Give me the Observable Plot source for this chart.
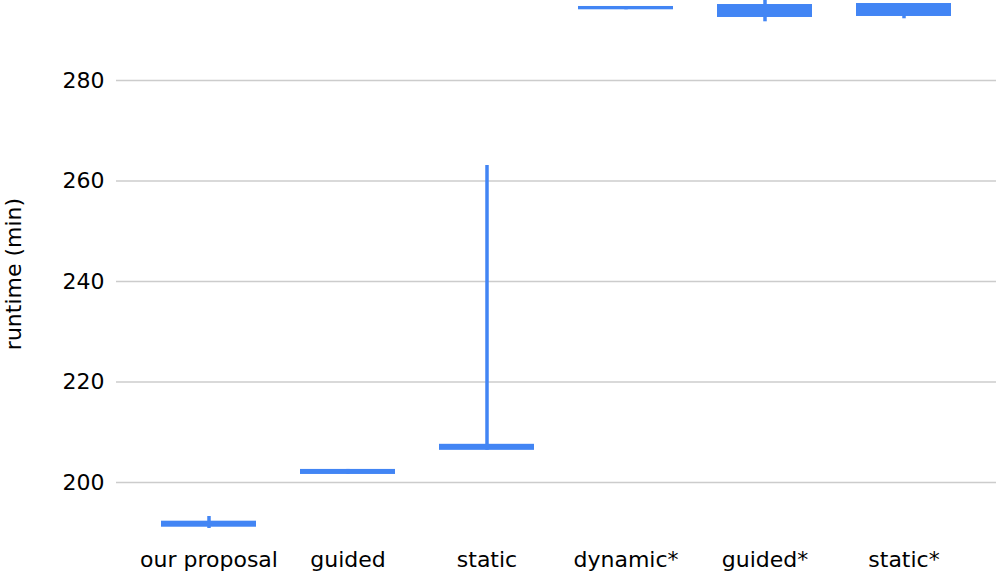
<!DOCTYPE html>
<html>
<head>
<meta charset="utf-8">
<script src="https://cdn.jsdelivr.net/npm/d3@7"></script>
<script src="https://cdn.jsdelivr.net/npm/@observablehq/plot@0.6"></script>
<style>
  html, body { margin: 0; padding: 0; background: #fff; }
  #chart svg { display: block; }
</style>
</head>
<body>
<div id="chart"></div>
<script>
const categories = ["our proposal", "guided", "static", "dynamic*", "guided*", "static*"];
const boxLow     = [191.1, 201.6, 206.4, 294.07, 292.54, 292.74];
const boxHigh    = [192.3, 202.6, 207.6, 294.73, 295.12, 295.32];
const whiskerLow = [190.85, 201.6, 206.4, 294.07, 291.68, 292.28];
const whiskerHigh= [193.23, 202.6, 263.1, 294.73, 296.5, 295.32];
const yTicks = [200, 220, 240, 260, 280];
const yLabel = "runtime (min)";

const rows = categories.map((c, i) => ({
  cat: c, lo: boxLow[i], hi: boxHigh[i], wlo: whiskerLow[i], whi: whiskerHigh[i]
}));

const blue = "#4285F4";

const chart = Plot.plot({
  width: 996,
  height: 573,
  marginTop: 0,
  marginBottom: 40,
  marginLeft: 139,
  marginRight: 23,
  style: { fontFamily: "DejaVu Sans", fontSize: "22px", color: "#000", background: "#fff" },
  x: { domain: categories, paddingInner: 0.32, paddingOuter: 0.16, label: null },
  y: { domain: [189.85, 295.92], label: null },
  marks: [
    Plot.ruleY(yTicks, { stroke: "#cccccc", strokeWidth: 1.5, insetLeft: -23, insetRight: -23 }),
    Plot.axisX({ tickSize: 0, tickPadding: 18, fontSize: 22, label: null }),
    Plot.axisY({ ticks: yTicks, tickSize: 0, tickPadding: 35, fontSize: 22, label: null }),
    Plot.ruleX(rows, { x: "cat", y1: "wlo", y2: "whi", stroke: blue, strokeWidth: 3.5, clip: true }),
    Plot.barY(rows, { x: "cat", y1: "lo", y2: "hi", fill: blue, clip: true }),
    Plot.text([yLabel], { text: d => d, frameAnchor: "left", textAnchor: "middle", rotate: -90, dx: -126, dy: 7, fontSize: 22, fill: "#000" })
  ]
});
document.getElementById("chart").appendChild(chart);
</script>
</body>
</html>
